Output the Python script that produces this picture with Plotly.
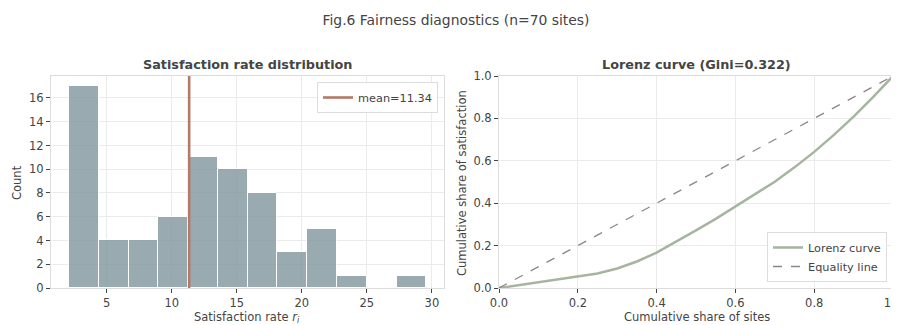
import plotly.graph_objects as go

# ---- data ----
bin_edges = [2.10, 4.39, 6.68, 8.97, 11.26, 13.55, 15.84, 18.13, 20.42, 22.71, 25.00, 27.29, 29.58]
bin_counts = [17, 4, 4, 6, 11, 10, 8, 3, 5, 1, 0, 1]
mean_rate = 11.34

lorenz_x = [0.0, 0.05, 0.1, 0.15, 0.2, 0.25, 0.3, 0.35, 0.4, 0.45, 0.5, 0.55, 0.6, 0.65, 0.7, 0.75, 0.8, 0.85, 0.9, 0.95, 1.0]
lorenz_y = [0.0, 0.013, 0.027, 0.040, 0.052, 0.068, 0.092, 0.125, 0.167, 0.218, 0.272, 0.326, 0.383, 0.441, 0.501, 0.569, 0.642, 0.722, 0.808, 0.902, 1.0]
equality_x = [0.0, 1.0]
equality_y = [0.0, 1.0]

FONT = "DejaVu Sans"
TXT = "#444444"
GRID = "#ebebeb"
FRAME = "#dcdcdc"

centers = [(a + b) / 2 for a, b in zip(bin_edges[:-1], bin_edges[1:])]
widths = [b - a for a, b in zip(bin_edges[:-1], bin_edges[1:])]
ytop = 17.85

fig = go.Figure()
fig.add_trace(go.Bar(x=centers, y=bin_counts, width=widths,
                     marker=dict(color="rgba(128,150,156,0.8)", line=dict(color="white", width=1)),
                     showlegend=False, xaxis="x", yaxis="y"))
fig.add_trace(go.Scatter(x=[mean_rate, mean_rate], y=[0, ytop], mode="lines",
                         line=dict(color="#b47a68", width=2.6),
                         name="mean=%.2f" % mean_rate, xaxis="x", yaxis="y", legend="legend"))
fig.add_trace(go.Scatter(x=lorenz_x, y=lorenz_y, mode="lines", line=dict(color="#a6b5a0", width=2.5),
                         name="Lorenz curve", xaxis="x2", yaxis="y2", legend="legend2"))
fig.add_trace(go.Scatter(x=equality_x, y=equality_y, mode="lines", line=dict(color="#8c8782", width=1.3, dash="dash"),
                         name="Equality line", xaxis="x2", yaxis="y2", legend="legend2"))

# page is rendered with an 8px body margin, so the figure is laid out 8px smaller
OFF = 8
W, H = 899 - OFF, 325 - OFF
L, R, T, B = 51 - OFF, W - (893 - OFF), 76 - OFF, H - (288 - OFF)
pw = W - L - R
ph = H - T - B

def px(xp):  # page x -> paper x
    return (xp - OFF - L) / pw

def py(yp):  # page y -> paper y
    return (H - B - (yp - OFF)) / ph

axis_common = dict(showgrid=True, gridcolor=GRID, gridwidth=1, showline=True, linecolor=FRAME, mirror=True,
                   ticks="outside", ticklen=4, tickcolor=TXT, tickfont=dict(size=11.5, color=TXT, family=FONT),
                   zeroline=False, automargin=False, ticklabeloverflow="allow")

def ann(text, xp, yp, angle=0, size=11.5):
    return dict(text=text, x=px(xp), y=py(yp), xref="paper", yref="paper", xanchor="center", yanchor="middle",
                textangle=angle, showarrow=False, font=dict(size=size, color=TXT, family=FONT))

fig.update_layout(
    width=W, height=H, margin=dict(l=L, r=R, t=T, b=B, autoexpand=False),
    plot_bgcolor="white", paper_bgcolor="white",
    font=dict(family=FONT, color=TXT, size=11.5),
    bargap=0,
    title=dict(text="Fig.6 Fairness diagnostics (n=70 sites)", x=px(456), xref="paper", xanchor="center",
               y=1 - (20 - OFF) / H, yanchor="middle", font=dict(size=13.9, color=TXT, family=FONT)),
    xaxis=dict(domain=[px(51), px(444)], range=[0.72, 30.93], tickvals=[5, 10, 15, 20, 25, 30], **axis_common),
    yaxis=dict(range=[0, ytop], tickvals=[0, 2, 4, 6, 8, 10, 12, 14, 16], **axis_common),
    xaxis2=dict(domain=[px(499), px(893)], range=[0, 1], tickvals=[0, 0.2, 0.4, 0.6, 0.8, 1.0], tickformat=".1f",
                anchor="y2", **axis_common),
    yaxis2=dict(range=[0, 1], tickvals=[0, 0.2, 0.4, 0.6, 0.8, 1.0], tickformat=".1f", anchor="x2", **axis_common),
    legend=dict(x=px(438), y=py(82), xanchor="right", yanchor="top", bgcolor="rgba(255,255,255,0.9)",
                bordercolor=FRAME, borderwidth=1, font=dict(size=11.3, color=TXT), tracegroupgap=0),
    legend2=dict(x=px(887), y=py(282), xanchor="right", yanchor="bottom", bgcolor="rgba(255,255,255,0.9)",
                 bordercolor=FRAME, borderwidth=1, font=dict(size=11.3, color=TXT), tracegroupgap=0),
    annotations=[
        ann("<b>Satisfaction rate distribution</b>", 247, 64, size=12.8),
        ann("<b>Lorenz curve (Gini=0.322)</b>", 696, 64, size=12.8),
        ann("Count", 17, 183, angle=-90),
        ann("Satisfaction rate <i>r<sub>i</sub></i>", 247, 317),
        ann("Cumulative share of satisfaction", 462, 183, angle=-90),
        ann("Cumulative share of sites", 697, 317),
    ],
)

fig.write_html("out.html")
